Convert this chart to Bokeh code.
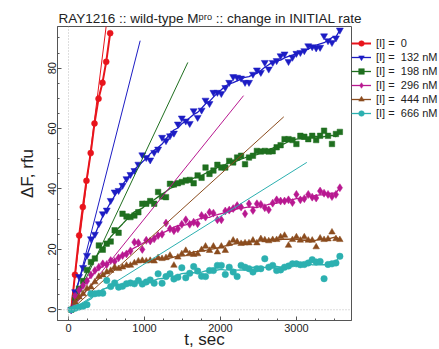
import numpy as np
from bokeh.plotting import figure
from bokeh.models import (Legend, LegendItem, Span, SingleIntervalTicker, Range1d)
from bokeh.embed import file_html
from bokeh.resources import INLINE

# ---------------- data ----------------
t_sec = [35, 87, 139, 191, 243, 295, 347, 399, 451, 503, 555, 607, 659, 711, 763, 815,
         867, 919, 971, 1023, 1075, 1127, 1179, 1231, 1283, 1335, 1387, 1439, 1491, 1543,
         1595, 1647, 1699, 1751, 1803, 1855, 1907, 1959, 2011, 2063, 2115, 2167, 2219,
         2271, 2323, 2375, 2427, 2479, 2531, 2583, 2635, 2687, 2739, 2791, 2843, 2895,
         2947, 2999, 3051, 3103, 3155, 3207, 3259, 3311, 3363, 3415, 3467, 3519, 3571]

red_t = [35, 85, 140, 188, 236, 292, 342, 395, 447, 496, 548]
red_f = [0, 11.6, 24.6, 34.0, 42.7, 51.9, 61.7, 69.9, 75.2, 82.1, 91.6]

blue_f = [0, 6, 11, 14, 18, 23.5, 25, 28.5, 31.8, 33, 36.2, 39, 39.5, 41.2, 43.4, 44.8,
          46.1, 48.2, 51.3, 50.4, 49.6, 52.1, 53.2, 57.1, 56, 57.6, 58.5, 61.5, 63.5, 62.5,
          61.7, 65.9, 63.7, 66.1, 69.4, 68.3, 72, 72, 71.6, 73.6, 75.3, 77.2, 77.0, 76.7,
          75.3, 75.3, 78, 79.4, 78.6, 81.9, 79.7, 81.9, 82.5, 84.1, 84.7, 82.2, 83.6, 84.9,
          85.2, 85.8, 87.4, 87.1, 86.7, 86.9, 90.7, 89.1, 88.5, 90.0, 92.6]

green_f = [0, 4, 7, 9.5, 13.2, 15.8, 17, 21.3, 19.9, 21.9, 22.6, 26.3, 25.5, 31.8, 30.9,
           30.7, 31.2, 32.3, 35.1, 35.1, 36, 35.1, 39, 37.5, 37.3, 41.7, 41.5, 41.9, 42.3,
           42.8, 43, 41.9, 44.5, 43.7, 47.1, 45.0, 46.1, 48.0, 47.1, 47.1, 49.3, 48.8, 50.4,
           51.0, 48.2, 50.4, 51.0, 52.6, 52.4, 52.6, 52.4, 52.5, 53.8, 54.5, 56.5, 56.5,
           56.2, 54.9, 57.6, 57.3, 56.5, 57.6, 56.2, 57.6, 59.3, 57.6, 54.9, 58.2, 58.9]

magenta_f = [0, 4.5, 6.5, 8, 9.5, 11.5, 13, 14.1, 15.2, 15, 16.3, 16, 17.2, 18, 18.5, 19.5,
             22.4, 22.2, 20, 23, 22.8, 23.5, 24.6, 25, 28.7, 26.8, 26.2, 26.8, 28.3, 29.8,
             28.3, 29.0, 28.5, 31.2, 30.7, 32.3, 32.0, 29.8, 29.8, 32.7, 33.0, 33.5, 34.5,
             34.0, 31.8, 35.1, 32.9, 35.1, 34.9, 33.8, 33.1, 35.3, 36.4, 36.0, 36.0, 36.4,
             35.5, 38.2, 36.4, 36.8, 38.2, 37.3, 37.0, 39.3, 38.6, 38.2, 37.5, 38.2, 40.4]

brown_f = [0, 2.5, 4.2, 5.3, 7.0, 7.5, 9.2, 11.0, 11.5, 12.5, 13.0, 14.1, 13.6, 14.1, 14.7,
           14.7, 15.5, 16.1, 16.3, 16.1, 16.3, 16.1, 17.2, 16.9, 17.2, 18.0, 14.7, 17.4,
           18.5, 19.6, 18.5, 18.3, 18.5, 19.9, 21.0, 19.6, 21.0, 19.1, 21.0, 19.6, 21.9,
           23.0, 22.5, 21.9, 22.1, 22.1, 23.0, 22.1, 23.5, 23.1, 22.8, 23.2, 23.2, 24.1,
           24.6, 21.3, 23.2, 24.1, 23.0, 24.1, 23.0, 23.0, 20.8, 23.7, 23.2, 23.4, 25.7,
           23.5, 23.2]

cyan_f = [0, 0.5, 0.9, 1.2, 1.7, 5.3, 5.3, 5.5, 5.5, 9.7, 7.7, 8.9, 7.5, 7.8, 8.6, 8.9,
          8.6, 9.7, 8.5, 9.2, 9.9, 8.8, 11.9, 8.8, 11.0, 11.9, 10.2, 10.8, 13.9, 10.6, 12.1,
          14.3, 12.8, 11.1, 11.0, 13.0, 13.0, 14.7, 14.7, 11.7, 14.1, 12.5, 11.0, 14.7,
          14.1, 13.6, 12.5, 13.6, 13.6, 16.9, 14.1, 14.7, 13.0, 13.2, 14.1, 14.5, 15.2,
          15.2, 14.9, 15.0, 15.5, 16.6, 15.8, 16.0, 10.3, 15.0, 15.2, 15.5, 17.7]

# initial-rate fit lines: start (t, 0) -> end (t, F)
fit_t_start = [30, 40, 35, 35, 35, 35]
fit_t_end = [496, 943, 1570, 2303, 2833, 3136]
fit_f_end = [94.0, 89.1, 81.9, 70.9, 63.9, 48.8]

labels = ["[I] =  0", "[I] =  132 nM", "[I] =  198 nM", "[I] =  296 nM",
          "[I] =  444 nM", "[I] =  666 nM"]
colors = ["#e8141c", "#1c1cc4", "#1f6f1f", "#b81890", "#8b4c1e", "#2cb0b0"]
markers = ["circle", "inverted_triangle", "square", "diamond", "triangle", "circle"]
msizes = [6, 7, 5.5, 8, 6.5, 6.5]

FONT = "Liberation Sans"


def smooth(v, h=3):
    v = np.asarray(v, dtype=float)
    n = len(v)
    out = np.empty(n)
    for i in range(n):
        k = min(h, i, n - 1 - i)
        out[i] = v[i - k:i + k + 1].mean()
    return out


p = figure(frame_width=294, frame_height=294,
           x_range=Range1d(-145, 3724), y_range=Range1d(-3.55, 93.8),
           output_backend="svg", toolbar_location=None,
           min_border_left=57, min_border_right=88, min_border_top=26, min_border_bottom=29,
           background_fill_color="white", border_fill_color="white")

p.title.text = "RAY1216 :: wild-type M\u1d56\u02b3\u1d52 :: change in INITIAL rate"
p.title.text_font = FONT
p.title.text_font_size = "13.5px"
p.title.text_font_style = "normal"
p.title.text_color = "#222222"
p.title.align = "left"
p.title.offset = 1
p.title.standoff = 2

p.xgrid.visible = False
p.ygrid.visible = False
p.outline_line_color = "#555555"

p.add_layout(Span(location=0, dimension="height", line_color="#bbbbbb",
                  line_dash="1 2", line_width=1))
p.add_layout(Span(location=0, dimension="width", line_color="#bbbbbb",
                  line_dash="1 2", line_width=1))

xt = SingleIntervalTicker(interval=1000, num_minor_ticks=4)
yt = SingleIntervalTicker(interval=20, num_minor_ticks=4)

for ax, tk in ((p.xaxis[0], xt), (p.yaxis[0], yt)):
    ax.ticker = tk
    ax.axis_line_color = "#555555"
    ax.major_tick_line_color = "#555555"
    ax.minor_tick_line_color = "#555555"
    ax.major_tick_in = 4
    ax.major_tick_out = 0
    ax.minor_tick_in = 2
    ax.minor_tick_out = 0
    ax.major_label_text_font = FONT
    ax.major_label_text_font_size = "11px"
    ax.major_label_text_color = "#222222"
    ax.axis_label_text_font = FONT
    ax.axis_label_text_font_size = "17px"
    ax.axis_label_text_font_style = "normal"
    ax.axis_label_text_color = "#222222"

p.xaxis.axis_label = "t, sec"
p.xaxis.major_label_standoff = 3
p.xaxis.axis_label_standoff = -5
p.yaxis.axis_label = "\u0394F, rfu"
p.yaxis.major_label_orientation = "vertical"
p.yaxis.major_label_standoff = 1
p.yaxis.axis_label_standoff = 9

series_t = [red_t, t_sec, t_sec, t_sec, t_sec, t_sec]
series_f = [red_f, blue_f, green_f, magenta_f, brown_f, cyan_f]

items = []
for i in range(6):
    tt, ff, c = series_t[i], series_f[i], colors[i]
    # initial-rate line
    p.line([fit_t_start[i], fit_t_end[i]], [0, fit_f_end[i]], line_color=c, line_width=1)
    # smoothed trace
    yy = ff if i == 0 else smooth(ff)
    lr = p.line(tt, yy, line_color=c, line_width=2 if i == 0 else 1.3)
    sr = p.scatter(tt, ff, marker=markers[i], size=msizes[i], fill_color=c, line_color=c,
                   line_width=0.5)
    items.append(LegendItem(label=labels[i], renderers=[lr, sr]))

legend = Legend(items=items, location=(0, 200), orientation="vertical",
                padding=0, margin=0, spacing=0, glyph_width=20, glyph_height=14,
                label_height=14, label_standoff=5, label_text_font=FONT,
                label_text_font_size="11px", label_text_color="#222222",
                border_line_color=None, background_fill_alpha=0)
p.add_layout(legend, "right")

open("out.html", "w").write(file_html(p, INLINE))
